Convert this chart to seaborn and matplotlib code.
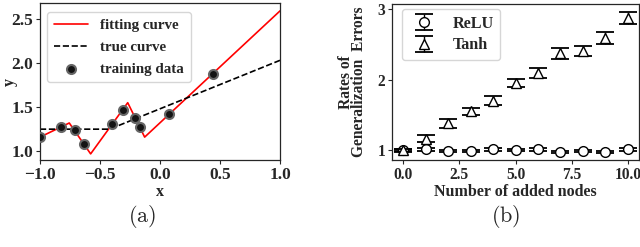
import numpy as np
import matplotlib.pyplot as plt
import seaborn as sns

# (a) fitting vs true curve
fit_x = [-1.0, -0.756, -0.578, -0.269, -0.128, 1.0]
fit_y = [1.16, 1.32, 0.97, 1.55, 1.16, 2.59]
true_x = [-1.0, -0.42, 1.0]
true_y = [1.25, 1.25, 2.03]
train_x = [-1.0, -0.825, -0.708, -0.631, -0.397, -0.308, -0.208, -0.167, 0.078, 0.444]
train_y = [1.16, 1.28, 1.24, 1.08, 1.31, 1.47, 1.38, 1.27, 1.42, 1.88]

# (b) generalization error rates
nodes = [0, 1, 2, 3, 4, 5, 6, 7, 8, 9, 10]
relu_mean = [1.0, 1.01, 0.99, 0.985, 1.01, 1.0, 1.01, 0.98, 0.985, 0.97, 1.01]
relu_err = [0.015] * 11
tanh_mean = [1.0, 1.16, 1.38, 1.55, 1.70, 1.95, 2.09, 2.37, 2.41, 2.59, 2.87]
tanh_err = [0.02, 0.05, 0.06, 0.05, 0.06, 0.06, 0.07, 0.075, 0.07, 0.08, 0.09]

sns.set_style("ticks")
plt.rcParams['font.family'] = ['Liberation Serif', 'DejaVu Serif']
plt.rcParams['font.weight'] = 'bold'
plt.rcParams['axes.labelweight'] = 'bold'
plt.rcParams['mathtext.fontset'] = 'cm'

fig = plt.figure(figsize=(6.4, 2.47), dpi=100)
ax1 = fig.add_axes([0.0625, 0.352, 0.375, 0.636])
ax2 = fig.add_axes([0.6125, 0.352, 0.386, 0.632])

# ---- panel (a)
sns.lineplot(x=fit_x, y=fit_y, ax=ax1, color='red', lw=1.2, sort=False,
             estimator=None, label='fitting curve')
sns.lineplot(x=true_x, y=true_y, ax=ax1, color='black', lw=1.2, sort=False,
             estimator=None, linestyle='--', label='true curve')
sns.scatterplot(x=train_x, y=train_y, ax=ax1, s=42, color='0.08',
                edgecolor='0.4', linewidth=1.5, label='training data', zorder=5)
ax1.set_xlim(-1, 1)
ax1.set_ylim(0.9, 2.68)
ax1.set_xticks([-1.0, -0.5, 0.0, 0.5, 1.0])
ax1.set_yticks([1.0, 1.5, 2.0, 2.5])
ax1.set_xlabel('x', fontsize=11.5, labelpad=1)
ax1.set_ylabel('y', fontsize=11.5)
ax1.yaxis.set_label_coords(-0.092, 0.5)
ax1.legend(loc='upper left', bbox_to_anchor=(0.029, 0.943), borderaxespad=0,
           labelspacing=0.55, handlelength=2.3, handletextpad=0.8,
           borderpad=0.45, prop={'weight': 'bold', 'size': 10.8})

# ---- panel (b)
ax2.errorbar(nodes, relu_mean, yerr=relu_err, fmt='o', color='black',
             mfc='white', mec='black', ms=7, capsize=6.5, capthick=1.3,
             elinewidth=1, label='ReLU', zorder=4)
ax2.errorbar(nodes, tanh_mean, yerr=tanh_err, fmt='^', color='black',
             mfc='white', mec='black', ms=7.5, capsize=6.5, capthick=1.3,
             elinewidth=1, label='Tanh', zorder=5)
ax2.set_xlim(-0.5, 10.5)
ax2.set_ylim(0.86, 3.07)
ax2.set_xticks([0.0, 2.5, 5.0, 7.5, 10.0])
ax2.set_yticks([1, 2, 3])
ax2.set_xlabel('Number of added nodes', fontsize=11.5, labelpad=1)
ax2.set_ylabel('Rates of\nGeneralization  Errors', fontsize=11.2,
               linespacing=0.75)
ax2.yaxis.set_label_coords(-0.10, 0.5)
ax2.legend(loc='upper left', bbox_to_anchor=(0.039, 0.966), borderaxespad=0,
           labelspacing=0.35, handlelength=2.0, handletextpad=0.75,
           borderpad=0.4, prop={'weight': 'bold', 'size': 11.6})

for ax, fs in ((ax1, 12.5), (ax2, 11.2)):
    ax.tick_params(labelsize=fs, length=3, width=0.8, pad=2)
    for lbl in ax.get_xticklabels() + ax.get_yticklabels():
        lbl.set_fontweight('bold')
    for sp in ax.spines.values():
        sp.set_visible(True)
        sp.set_color('0.15')
        sp.set_linewidth(0.9)

fig.text(141.7 / 640, 1 - 216 / 247, r'$\mathrm{(a)}$', fontsize=16,
         ha='center', va='center')
fig.text(505.7 / 640, 1 - 216 / 247, r'$\mathrm{(b)}$', fontsize=16,
         ha='center', va='center')

fig.savefig('out.png', dpi=100)
